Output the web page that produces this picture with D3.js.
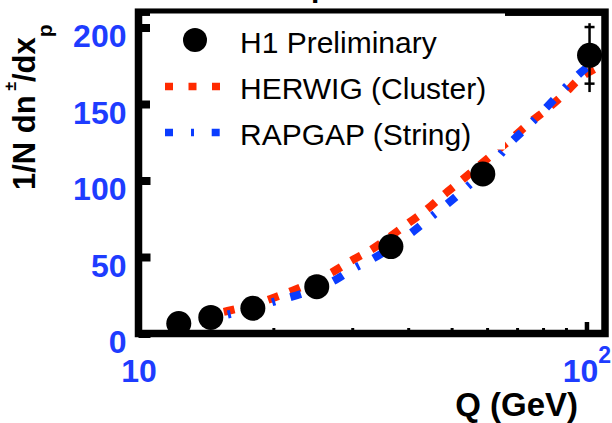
<!DOCTYPE html>
<html>
<head>
<meta charset="utf-8">
<script src="https://cdn.jsdelivr.net/npm/d3@7"></script>
<style>
  body { margin: 0; background: #fff; }
  svg { display: block; }
  text { font-family: "Liberation Sans", Arial, Helvetica, sans-serif; }
</style>
</head>
<body>
<svg id="chart" width="612" height="423"></svg>
<script>
// H1 preliminary charged multiplicity vs Q
const dataQ      = [12.3, 14.5, 18.0, 25.0, 36.6, 58.7, 101.6];
const dataN      = [6.5, 10.5, 16.5, 30.6, 56.8, 104.3, 181.8];
const statErr    = [0.5, 0.7, 1.0, 1.6, 2.8, 5.0, 18.5];
const totErrUp   = [0.8, 1.0, 1.5, 2.2, 4.0, 7.0, 21.0];
const totErrDown = [0.8, 1.0, 1.5, 2.2, 4.0, 7.0, 24.0];

// Monte Carlo predictions
const herwigQ = [13.8, 15.8, 19.7, 22.0, 27.0, 29.8, 33.0, 40.1, 43.6, 48.0, 52.1, 62.7, 68.8, 75.4, 81.9, 89.3, 97.0, 104.5];
const herwigN = [11.5, 14.7, 22.6, 27.8, 39.9, 47.4, 54.6, 72.3, 80.1, 90.6, 99.1, 118.7, 128.5, 138.7, 146.9, 156.7, 167.1, 173.0];
const rapgapQ = [13.8, 15.8, 19.8, 27.5, 30.1, 33.4, 40.5, 43.9, 52.9, 62.7, 68.0, 73.8, 80.1, 86.6, 93.3, 101.6, 104.5];
const rapgapN = [9.5, 12.4, 20.3, 35.0, 42.2, 49.0, 65.4, 73.6, 93.2, 113.5, 125.3, 135.1, 145.6, 156.0, 165.8, 175.0, 177.0];

const yTicks = [0, 50, 100, 150, 200];
const xTicks = [10, 20, 30, 40, 50, 60, 70, 80, 90, 100];
const legendLabels = ["H1 Preliminary", "HERWIG (Cluster)", "RAPGAP (String)"];

const RED = "#ff2a00";
const BLUE = "#0a3cff";
const LABEL_BLUE = "#1e3cff";

const svg = d3.select("#chart");

const x = d3.scaleLog().domain([10, 110]).range([138.5, 605]);
const y = d3.scaleLinear().domain([0, 210]).range([333.5, 12.2]);

// title fragment above the frame
svg.append("text")
  .attr("x", 311).attr("y", -3)
  .attr("font-size", 30).attr("font-weight", "bold")
  .text("p");

// model curves
const line = d3.line().x(d => x(d[0])).y(d => y(d[1])).curve(d3.curveMonotoneX);

svg.append("path")
  .datum(herwigQ.map((q, i) => [q, herwigN[i]]))
  .attr("d", line)
  .attr("fill", "none")
  .attr("stroke", RED)
  .attr("stroke-width", 8)
  .attr("stroke-dasharray", "11,12");

svg.append("path")
  .datum(rapgapQ.map((q, i) => [q, rapgapN[i]]))
  .attr("d", line)
  .attr("fill", "none")
  .attr("stroke", BLUE)
  .attr("stroke-width", 8)
  .attr("stroke-dasharray", "11,16,3,16");

// data points with error bars
const pts = svg.append("g");
dataQ.forEach((q, i) => {
  const cx = x(q);
  pts.append("line")
    .attr("x1", cx).attr("x2", cx)
    .attr("y1", y(dataN[i] + totErrUp[i])).attr("y2", y(dataN[i] - totErrDown[i]))
    .attr("stroke", "#000").attr("stroke-width", 2.5);
  [dataN[i] + statErr[i], dataN[i] - statErr[i]].forEach(v => {
    pts.append("line")
      .attr("x1", cx - 5).attr("x2", cx + 5)
      .attr("y1", y(v)).attr("y2", y(v))
      .attr("stroke", "#000").attr("stroke-width", 2.5);
  });
  pts.append("circle")
    .attr("cx", cx).attr("cy", y(dataN[i]))
    .attr("r", 12.5).attr("fill", "#000");
});

// frame
svg.append("rect")
  .attr("x", 138.5).attr("y", 12.2)
  .attr("width", 605 - 138.5).attr("height", 333.5 - 12.2)
  .attr("fill", "none").attr("stroke", "#000").attr("stroke-width", 7.5);

// left axis
const yAxis = svg.append("g")
  .attr("transform", "translate(138.5,0)")
  .call(d3.axisLeft(y).tickValues(yTicks).tickSizeInner(-12).tickSizeOuter(0).tickPadding(12));
yAxis.select(".domain").remove();
yAxis.selectAll(".tick line").attr("stroke", "#000").attr("stroke-width", 8);
yAxis.selectAll(".tick text")
  .attr("dy", "19px")
  .attr("fill", LABEL_BLUE)
  .attr("font-size", 32).attr("font-weight", "bold")
  .attr("font-family", "Liberation Sans, Arial, sans-serif");

// bottom axis
const xAxis = svg.append("g")
  .attr("transform", "translate(0,333.5)")
  .call(d3.axisBottom(x).tickValues(xTicks).tickSizeInner(-6).tickSizeOuter(0).tickFormat(""));
xAxis.select(".domain").remove();
xAxis.selectAll(".tick line")
  .attr("stroke", "#000")
  .attr("y2", d => d === 100 ? -11.5 : -5.5)
  .attr("stroke-width", d => d === 100 ? 4.5 : 3);
xAxis.selectAll(".tick text").remove();

const xLab = xAxis.selectAll(".tick").filter(d => d === 10 || d === 100)
  .append("text")
  .attr("y", 48.5)
  .attr("text-anchor", "middle")
  .attr("fill", LABEL_BLUE)
  .attr("font-size", 32).attr("font-weight", "bold");
xLab.append("tspan").text("10");
xLab.filter(d => d === 100).append("tspan")
  .attr("dy", -19).attr("font-size", 23).text("2");

svg.append("text")
  .attr("x", 578).attr("y", 416)
  .attr("text-anchor", "end")
  .attr("font-size", 33).attr("font-weight", "bold")
  .text("Q (GeV)");

// y axis title
const yt = svg.append("text")
  .attr("transform", "translate(35,190) rotate(-90)")
  .attr("font-size", 31).attr("font-weight", "bold");
yt.append("tspan").text("1/N dn");
yt.append("tspan").attr("dy", -19).attr("font-size", 16).text(" \u00b1");
yt.append("tspan").attr("dy", 19).text("/dx");
yt.append("tspan").attr("dy", 17).attr("font-size", 21).text("p");

// legend
const leg = svg.append("g");
leg.append("rect")
  .attr("x", 150).attr("y", 13.5).attr("width", 355).attr("height", 136)
  .attr("fill", "#fff");
leg.append("circle").attr("cx", 195).attr("cy", 40).attr("r", 12).attr("fill", "#000");
leg.append("line")
  .attr("x1", 165).attr("x2", 220).attr("y1", 86.5).attr("y2", 86.5)
  .attr("stroke", RED).attr("stroke-width", 7.5).attr("stroke-dasharray", "8,15.5");
leg.append("line")
  .attr("x1", 165).attr("x2", 220).attr("y1", 132.5).attr("y2", 132.5)
  .attr("stroke", BLUE).attr("stroke-width", 7.5).attr("stroke-dasharray", "8,18,3,17.7");
leg.selectAll("text.lab")
  .data(legendLabels)
  .join("text")
  .attr("class", "lab")
  .attr("x", 240)
  .attr("y", (d, i) => 53.3 + i * 46)
  .attr("font-size", 30)
  .text(d => d);
</script>
</body>
</html>
